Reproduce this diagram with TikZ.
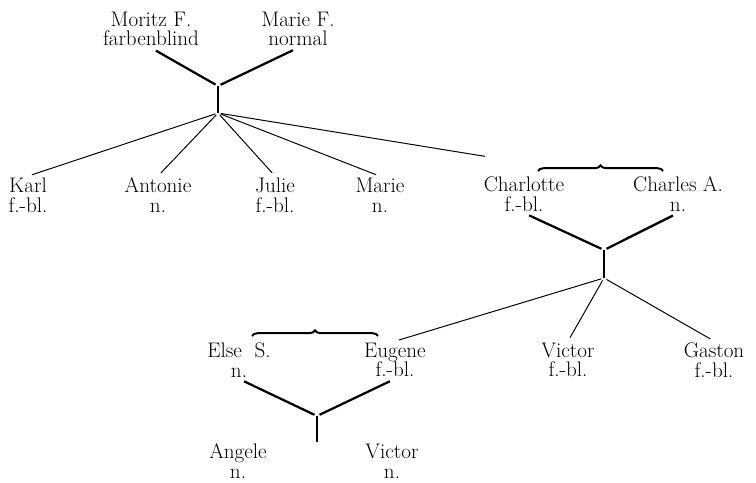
\documentclass[tikz,border=0pt]{standalone}
\usetikzlibrary{calc,decorations.pathreplacing}

\begin{document}
\begin{tikzpicture}[x=0.025cm,y=-0.025cm,
  every node/.style={align=center,inner sep=1pt,font=\fontsize{15}{14}\selectfont},
  marriage/.style={line width=1.6pt,shorten <=4pt,shorten >=2pt},
  descent/.style={line width=0.7pt,shorten <=2pt,shorten >=3pt},
  stem/.style={line width=1.1pt},
  couple/.style={decorate,decoration={brace,amplitude=4pt},line width=1.4pt}]
  \useasboundingbox (0,0) rectangle (756,482);

  % first generation
  \node (moritz) at (151,29) {Moritz F.\\farbenblind};
  \node (marieF) at (298,29) {Marie F.\\normal};
  \coordinate (top1) at (218,86);
  \coordinate (bot1) at (218,113);

  \draw[marriage] (moritz.south) -- (top1);
  \draw[marriage] (marieF.south) -- (top1);
  \draw[stem] (top1) -- (bot1);

  % children
  \node (karl) at (28,195) {Karl\\f.-bl.};
  \node (antonie) at (158,195) {Antonie\\n.};
  \node (julie) at (275,195) {Julie\\f.-bl.};
  \node (marie) at (380,195) {Marie\\n.};
  \node (charlotte) at (524,194) {Charlotte\\f.-bl.};
  \node (charles) at (678,194) {Charles A.\\n.};
  \coordinate (chl) at ($(charlotte.north west)+(7,-18)$);

  \foreach \kid in {karl,antonie,julie,marie}
    \draw[descent] (bot1) -- (\kid.north);
  \draw[descent] (bot1) -- (chl);
  \draw[couple] (538,171) -- (663,171);

  % second generation
  \coordinate (top2) at (604,250);
  \coordinate (bot2) at (604,278);
  \draw[marriage] (charlotte.south) -- (top2);
  \draw[marriage] (charles.south) -- (top2);
  \draw[stem] (top2) -- (bot2);

  \node (elseS) at (239,360) {Else\ \ S.\\n.};
  \node (eugene) at (395,360) {Eugene\\f.-bl.};
  \node (victor) at (568,360) {Victor\\f.-bl.};
  \node (gaston) at (714,360) {Gaston\\f.-bl.};

  \foreach \kid in {eugene,victor,gaston}
    \draw[descent] (bot2) -- (\kid.north);
  \draw[couple] (252,336) -- (378,336);

  % third generation
  \coordinate (top3) at (317,416);
  \coordinate (bot3) at (317,442);
  \draw[marriage] (elseS.south) -- (top3);
  \draw[marriage] (eugene.south) -- (top3);
  \draw[stem] (top3) -- (bot3);

  \node (angele) at (238,461) {Angele\\n.};
  \node (victorB) at (392,461) {Victor\\n.};
\end{tikzpicture}
\end{document}
